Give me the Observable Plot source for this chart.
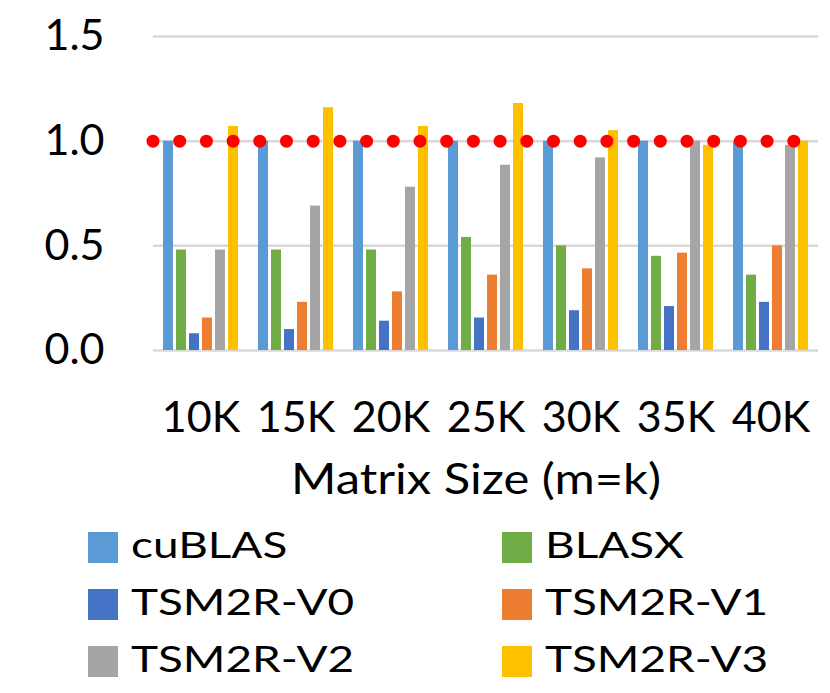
<!DOCTYPE html>
<html>
<head>
<meta charset="utf-8">
<script src="https://cdn.jsdelivr.net/npm/d3@7"></script>
<script src="https://cdn.jsdelivr.net/npm/@observablehq/plot@0.6"></script>
<style>
  html, body { margin: 0; padding: 0; background: #fff; }
  #wrap { position: relative; width: 830px; height: 693px; overflow: hidden; background: #fff; font-family: Lato, sans-serif; color: #000; }
  #chart, #overlay { position: absolute; left: 0; top: 0; }
  #overlay { pointer-events: none; }
  #title { position: absolute; left: 226px; width: 500px; top: 453px; text-align: center; font-size: 42px; line-height: 1.2; white-space: nowrap; transform: scaleX(1.165); transform-origin: center center; }
  .lg-sw { position: absolute; width: 30px; height: 31px; }
  .lg-tx { position: absolute; font-size: 37px; line-height: 1.2; white-space: nowrap; transform: scaleX(1.24); transform-origin: left center; }
</style>
</head>
<body>
<div id="wrap">
  <div id="chart"></div>
  <div id="overlay"></div>
  <div id="title">Matrix Size (m=k)</div>
  <div id="legend"></div>
</div>
<script>
// ---- data ----
const sizes = ["10K", "15K", "20K", "25K", "30K", "35K", "40K"];
const series = ["cuBLAS", "BLASX", "TSM2R-V0", "TSM2R-V1", "TSM2R-V2", "TSM2R-V3"];
const colors = ["#5B9BD5", "#70AD47", "#4472C4", "#ED7D31", "#A5A5A5", "#FFC000"];
const cuBLAS = [1.0, 1.0, 1.0, 1.0, 1.0, 1.0, 1.0];
const BLASX  = [0.48, 0.48, 0.48, 0.54, 0.50, 0.45, 0.36];
const V0     = [0.08, 0.10, 0.14, 0.155, 0.19, 0.21, 0.23];
const V1     = [0.155, 0.23, 0.28, 0.36, 0.39, 0.465, 0.50];
const V2     = [0.48, 0.69, 0.78, 0.885, 0.92, 1.0, 0.98];
const V3     = [1.07, 1.16, 1.07, 1.18, 1.05, 0.98, 1.0];
const baseline = 1.0;
const yTicks = [0, 0.5, 1.0, 1.5];

const valuesBySeries = [cuBLAS, BLASX, V0, V1, V2, V3];
const data = [];
sizes.forEach((s, i) => {
  series.forEach((name, j) => {
    data.push({ size: s, series: name, value: valuesBySeries[j][i] });
  });
});

const common = {
  width: 830,
  height: 445,
  marginLeft: 151,
  marginRight: 10,
  marginTop: 36,
  marginBottom: 95,
  y: { domain: [0, 1.5], axis: null }
};

const chart = Plot.plot({
  ...common,
  style: { fontFamily: "Lato, sans-serif", fontSize: "43px", color: "#000", background: "#fff" },
  fx: { domain: sizes, padding: 0 },
  x: { domain: series, paddingInner: 0.2, paddingOuter: 0.75, axis: null },
  color: { domain: series, range: colors },
  marks: [
    Plot.ruleY(yTicks, { stroke: "#d9d9d9", strokeWidth: 2.5 }),
    Plot.barY(data, { fx: "size", x: "series", y: "value", fill: "series" }),
    Plot.axisY({ ticks: yTicks, tickFormat: d3.format(".1f"), tickSize: 0, tickPadding: 49, fontSize: 43, label: null }),
    Plot.axisFx({ anchor: "bottom", tickSize: 0, tickPadding: 51, fontSize: 43, label: null })
  ]
});
document.getElementById("chart").appendChild(chart);

// dotted 1.0 reference line, drawn on a transparent overlay with the same y scale
const overlay = Plot.plot({
  ...common,
  style: { background: "transparent" },
  marks: [
    Plot.ruleY([baseline], { stroke: "#FF0000", strokeWidth: 13, strokeLinecap: "round", strokeDasharray: "0 26.7", insetLeft: 2, insetRight: 25 })
  ]
});
document.getElementById("overlay").appendChild(overlay);

// ---- legend (HTML) ----
const legend = document.getElementById("legend");
const colX = [88, 502];
const rowY = [532, 589, 646];
series.forEach((name, i) => {
  const c = i % 2, r = Math.floor(i / 2);
  const sw = document.createElement("div");
  sw.className = "lg-sw";
  sw.style.left = colX[c] + "px";
  sw.style.top = rowY[r] + "px";
  sw.style.background = colors[i];
  legend.appendChild(sw);
  const tx = document.createElement("div");
  tx.className = "lg-tx";
  tx.style.left = (colX[c] + 43) + "px";
  tx.style.top = (rowY[r] - 10) + "px";
  tx.textContent = name;
  legend.appendChild(tx);
});
</script>
</body>
</html>
